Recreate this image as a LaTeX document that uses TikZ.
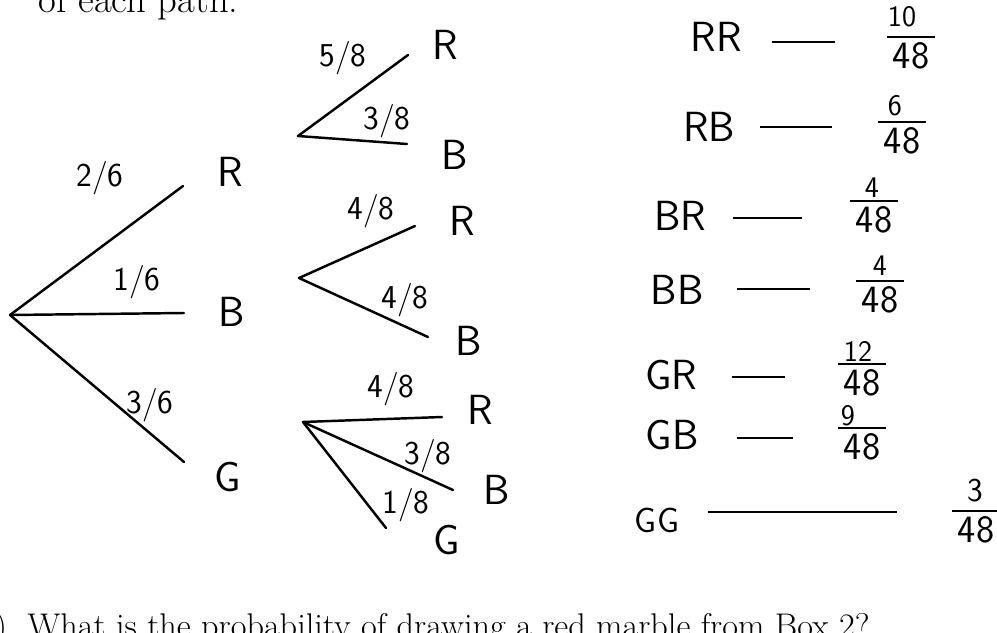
\documentclass[tikz,border=0pt]{standalone}
\usepackage{fontspec}
\tikzset{
  branch/.style={line width=1.4pt, line cap=round},
  pen/.style={font=\sffamily\fontsize{24}{26}\selectfont, inner sep=0pt},
  prob/.style={font=\sffamily\fontsize{19}{21}\selectfont, inner sep=0pt},
  ratio/.style={font=\sffamily\fontsize{22}{24}\selectfont, inner sep=0pt},
  numer/.style={font=\sffamily\fontsize{17}{19}\selectfont, inner sep=0pt},
  fracbar/.style={line width=1.1pt, shorten <=-3pt, shorten >=-3pt},
  dashline/.style={line width=1.1pt},
  printed/.style={font=\fontsize{19.5}{22}\selectfont, inner sep=0pt}
}
\begin{document}
\begin{tikzpicture}[x=0.02cm,y=-0.02cm]
        \useasboundingbox (0,0) rectangle (997,632);
        % Printed question text (cut by the page)
        \node[printed, font=\fontsize{22}{24}\selectfont, anchor=base west] (top) at (38,12) {of each path.};
        \node[printed, anchor=base east] (ask) at (870,637) {b)\hspace{0.6em}What is the probability of drawing a red marble from Box 2?};
        % First draw
        \coordinate (root) at (10,315);
        \coordinate (eR) at (183,186);
        \coordinate (eB) at (184,313);
        \coordinate (eG) at (184,462);
        \draw[branch] (root) -- (eR);
        \draw[branch] (root) -- (eB);
        \draw[branch] (root) -- (eG);
        \node[pen] (R) at (230,172) {R};
        \node[pen] (B) at (232,312) {B};
        \node[pen] (G) at (228,477) {G};
        \node[prob] (pR) at (100,178) {2/6};
        \node[prob] (pB) at (137,282) {1/6};
        \node[prob] (pG) at (150,405) {3/6};
        % Second draw after R
        \coordinate (vR) at (298,136);
        \coordinate (eRR) at (408,55);
        \coordinate (eRB) at (407,144);
        \draw[branch] (vR) -- (eRR);
        \draw[branch] (vR) -- (eRB);
        \node[pen] (RR) at (445,45) {R};
        \node[pen] (RB) at (455,155) {B};
        \node[prob] (pRR) at (343,58) {5/8};
        \node[prob] (pRB) at (387,121) {3/8};
        % Second draw after B
        \coordinate (vB) at (299,278);
        \coordinate (eBR) at (415,226);
        \coordinate (eBB) at (428,337);
        \draw[branch] (vB) -- (eBR);
        \draw[branch] (vB) -- (eBB);
        \node[pen] (BR) at (462,221) {R};
        \node[pen] (BB) at (469,341) {B};
        \node[prob] (pBR) at (371,211) {4/8};
        \node[prob] (pBB) at (405,300) {4/8};
        % Second draw after G
        \coordinate (vG) at (303,422);
        \coordinate (eGR) at (442,417);
        \coordinate (eGB) at (453,490);
        \coordinate (eGG) at (386,528);
        \draw[branch] (vG) -- (eGR);
        \draw[branch] (vG) -- (eGB);
        \draw[branch] (vG) -- (eGG);
        \node[pen] (GR) at (480,410) {R};
        \node[pen] (GB) at (497,490) {B};
        \node[pen] (GG) at (447,540) {G};
        \node[prob] (pGR) at (391,389) {4/8};
        \node[prob] (pGB) at (428,456) {3/8};
        \node[prob] (pGG) at (406,505) {1/8};
        % Outcomes
        \node[pen] (o1) at (716,37) {RR};
        \node[pen] (o2) at (709,127) {RB};
        \node[pen] (o3) at (680,216) {BR};
        \node[pen] (o4) at (677,290) {BB};
        \node[pen] (o5) at (671,375) {GR};
        \node[pen] (o6) at (672,435) {GB};
        \node[pen, font=\sffamily\fontsize{20}{22}\selectfont] (o7) at (657,520) {GG};
        \draw[dashline] (o1) ++(56,5) -- +(63,0);
        \draw[dashline] (o2) ++(51,0) -- +(72,0);
        \draw[dashline] (o3) ++(53,2) -- +(69,0);
        \draw[dashline] (o4) ++(60,-1) -- +(73,0);
        \draw[dashline] (o5) ++(61,2) -- +(53,0);
        \draw[dashline] (o6) ++(65,3) -- +(56,0);
        \draw[dashline] (o7) ++(51,-8) -- +(189,0);
        % Probabilities: numerator, denominator, bar
        \node[numer] (n1) at (902,17) {10};
        \node[ratio] (d1) at (911,56) {48};
        \node[numer] (n2) at (895,106) {6};
        \node[ratio] (d2) at (902,141) {48};
        \node[numer] (n3) at (872,188) {4};
        \node[ratio] (d3) at (874,220) {48};
        \node[numer] (n4) at (880,266) {4};
        \node[ratio] (d4) at (880,300) {48};
        \node[numer] (n5) at (858,351) {12};
        \node[ratio] (d5) at (862,383) {48};
        \node[numer] (n6) at (848,416) {9};
        \node[ratio] (d6) at (862,447) {48};
        \node[numer, font=\sffamily\fontsize{19}{21}\selectfont] (n7) at (975,491) {3};
        \node[ratio] (d7) at (976,530) {48};
        \foreach \k in {1,...,7}
          \draw[fracbar] ([yshift=3pt]d\k.north west) -- ([yshift=3pt]d\k.north east);
\end{tikzpicture}
\end{document}
